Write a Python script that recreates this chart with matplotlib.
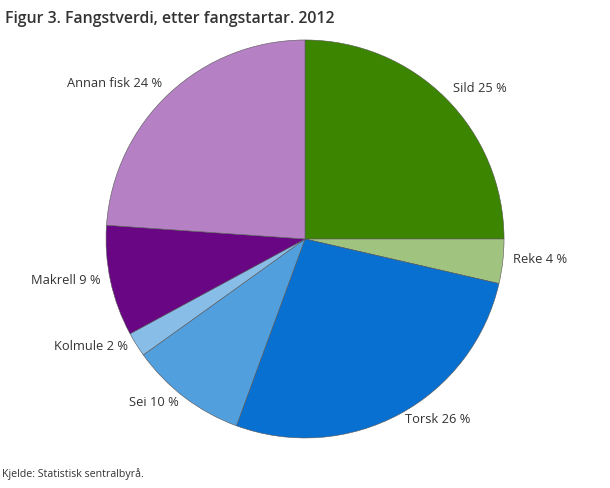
import matplotlib
matplotlib.use("Agg")
import matplotlib.pyplot as plt
import matplotlib.transforms as mtransforms

plt.rcParams['font.family'] = ['Open Sans', 'DejaVu Sans']

# data (andel i prosent, lest av figuren; etikettane viser avrunda tal)
arter = ["Sild", "Reke", "Torsk", "Sei", "Kolmule", "Makrell", "Annan fisk"]
andel = [25.0, 3.6, 27.0, 9.5, 2.0, 9.0, 23.9]
etikett_pst = [25, 4, 26, 10, 2, 9, 24]
farger = ["#3b8500", "#a0c47f", "#0870d0", "#529fde", "#88bde8", "#680684", "#b581c4"]

fig = plt.figure(figsize=(6.1, 4.88), dpi=100)
ax = fig.add_axes([0.1738, 0.1025, 0.6525, 0.8156])

etiketter = [f"{a} {p} %" for a, p in zip(arter, etikett_pst)]
wedges, texts = ax.pie(andel, colors=farger, startangle=90, counterclock=False,
                       labels=etiketter, labeldistance=1.05, radius=1,
                       wedgeprops=dict(edgecolor="#555555", linewidth=0.4),
                       textprops=dict(fontsize=9.3, color="#333333"))
# flytt etikettane litt opp
flytt = mtransforms.ScaledTranslation(0, 3 / 100, fig.dpi_scale_trans)
for t in texts:
    t.set_transform(t.get_transform() + flytt)

ax.set_xlim(-1, 1)
ax.set_ylim(-1, 1)
ax.set_aspect("equal")

fig.text(0.008, 0.977, "Figur 3. Fangstverdi, etter fangstartar. 2012",
         fontsize=11.4, fontweight="semibold", color="#333333", va="top", ha="left")
fig.text(0.003, 0.016, "Kjelde: Statistisk sentralbyrå.", fontsize=7.7,
         color="#333333", ha="left", va="bottom")

fig.savefig("out.png", dpi=100)
